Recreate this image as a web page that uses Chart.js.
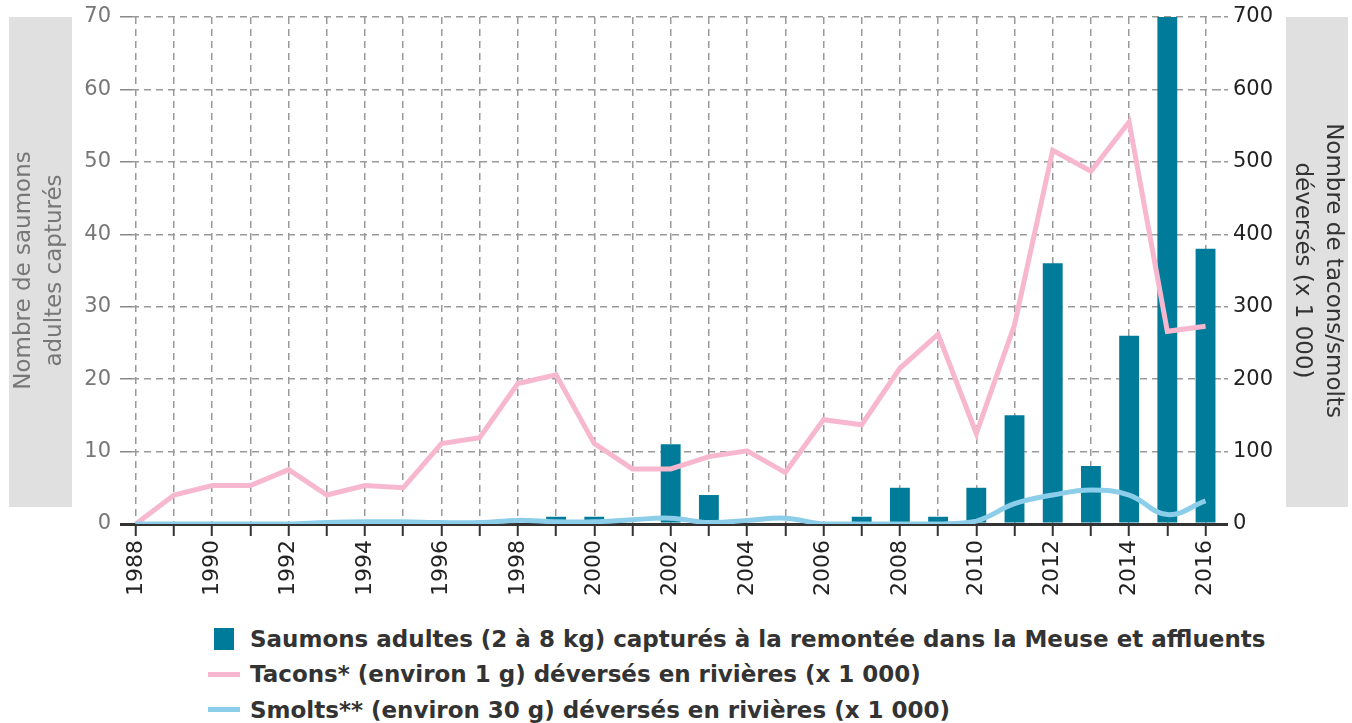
<!DOCTYPE html>
<html lang="fr">
<head>
<meta charset="utf-8">
<title>Saumons dans la Meuse</title>
<script src="https://cdn.jsdelivr.net/npm/chart.js@4.4.1/dist/chart.umd.min.js"></script>
<style>
  body { margin: 0; background: #fff; font-family: "DejaVu Sans", sans-serif; }
  #wrap { position: relative; width: 1352px; height: 610px; }
  #legend { position: absolute; left: 208px; top: 621px; color: #333; font-weight: bold; font-size: 23px; }
  #legend .row { height: 35.5px; display: flex; align-items: center; }
  #legend .sw { width: 32px; margin-right: 10px; display: flex; justify-content: center; }
  #legend .box { width: 20px; height: 22px; }
  #legend .line { width: 32px; height: 5px; }
</style>
</head>
<body>
<div id="wrap"><canvas id="myChart"></canvas></div>
<div id="legend"></div>
<script>
// données
const years = [1988, 1989, 1990, 1991, 1992, 1993, 1994, 1995, 1996, 1997, 1998, 1999, 2000, 2001, 2002,
  2003, 2004, 2005, 2006, 2007, 2008, 2009, 2010, 2011, 2012, 2013, 2014, 2015, 2016];
const saumons = [0, 0, 0, 0, 0, 0, 0, 0, 0, 0, 0, 1, 1, 0, 11,
  4, 0, 0, 0, 1, 5, 1, 5, 15, 36, 8, 26, 70, 38];
const tacons = [0, 40, 53, 53, 75, 40, 53, 50, 111, 119, 194, 206, 111, 76, 76,
  93, 101, 71, 144, 137, 215, 262, 125, 275, 516, 487, 555, 266, 273];
const smolts = [0, 0, 0, 0, 0, 2, 3, 3, 2, 2, 5, 3, 3, 6, 8,
  2, 5, 8, 0, 0, 0, 0, 4, 28, 40, 47, 40, 13, 32];
const leftTicks = [0, 10, 20, 30, 40, 50, 60, 70];
const rightTicks = [0, 100, 200, 300, 400, 500, 600, 700];

const labelSaumons = 'Saumons adultes (2 à 8 kg) capturés à la remontée dans la Meuse et affluents';
const labelTacons = 'Tacons* (environ 1 g) déversés en rivières (x 1 000)';
const labelSmolts = 'Smolts** (environ 30 g) déversés en rivières (x 1 000)';

const teal = '#007b99';
const pink = '#f7b7cf';
const blue = '#8ccdea';

Chart.defaults.font.family = '"DejaVu Sans", sans-serif';

const xy = arr => years.map((y, i) => ({ x: y, y: arr[i] }));

// largeur fixe des axes verticaux, sans marge auto en haut/bas
const fixWidth = w => s => {
  s.width = w;
  s.paddingTop = 0;
  s.paddingBottom = 0;
};

// fonds gris derrière les titres des axes
const titleBoxes = {
  id: 'titleBoxes',
  beforeDraw(chart) {
    const { ctx, chartArea, scales } = chart;
    const top = chartArea.top;
    const h = chartArea.bottom - 17 - top;
    ctx.save();
    ctx.fillStyle = '#e0e0e0';
    ctx.fillRect(scales.y.left, top, 63, h);
    ctx.fillRect(scales.y1.right - 62, top, 62, h);
    ctx.restore();
  }
};

const ctx = document.getElementById('myChart');

new Chart(ctx, {
  type: 'bar',
  data: {
    datasets: [
      {
        type: 'line',
        label: labelSmolts,
        data: xy(smolts),
        yAxisID: 'y1',
        borderColor: blue,
        borderWidth: 5,
        pointRadius: 0,
        tension: 0.4,
        order: 0
      },
      {
        type: 'line',
        label: labelTacons,
        data: xy(tacons),
        yAxisID: 'y1',
        borderColor: pink,
        borderWidth: 5,
        pointRadius: 0,
        tension: 0,
        order: 1
      },
      {
        label: labelSaumons,
        data: xy(saumons),
        yAxisID: 'y',
        backgroundColor: teal,
        categoryPercentage: 0.8,
        barPercentage: 0.65,
        order: 2
      }
    ]
  },
  options: {
    responsive: true,
    maintainAspectRatio: false,
    animation: false,
    layout: { padding: { top: 17, left: 9, right: 4, bottom: 8 } },
    plugins: {
      legend: { display: false },
      tooltip: { enabled: false }
    },
    scales: {
      x: {
        type: 'linear',
        offset: false,
        min: 1987.9,
        max: 2016.3,
        afterFit: s => {
          s.height = 78;
          s.paddingLeft = 0;
          s.paddingRight = 0;
        },
        border: { display: false, dash: [7, 5] },
        grid: {
          offset: false,
          color: '#9a9a9a',
          lineWidth: 1.5,
          tickColor: '#333',
          tickWidth: 2,
          tickLength: 12,
          tickBorderDash: []
        },
        ticks: {
          stepSize: 1,
          includeBounds: false,
          autoSkip: false,
          minRotation: 90,
          maxRotation: 90,
          padding: 4,
          color: '#222',
          font: { size: 22 },
          callback: v => (v % 2 === 0 ? String(v) : '')
        }
      },
      y: {
        position: 'left',
        min: 0,
        max: 70,
        afterFit: fixWidth(123),
        afterBuildTicks: s => { s.ticks = leftTicks.map(v => ({ value: v })); },
        border: {
          display: false,
          dash: c => (c.tick && c.tick.value === 0 ? [] : [7, 5])
        },
        grid: {
          color: c => (c.tick.value === 0 ? '#333' : '#9a9a9a'),
          lineWidth: c => (c.tick.value === 0 ? 3 : 1.5),
          tickColor: c => (c.tick.value === 0 ? '#333' : '#888'),
          tickLength: 12,
          tickBorderDash: []
        },
        ticks: { color: '#777', font: { size: 21 }, padding: 9 },
        title: {
          display: true,
          text: ['Nombre de saumons', 'adultes capturés'],
          color: '#777',
          font: { size: 23, lineHeight: 1.33 },
          padding: 0
        }
      },
      y1: {
        position: 'right',
        min: 0,
        max: 700,
        afterFit: fixWidth(131),
        afterBuildTicks: s => { s.ticks = rightTicks.map(v => ({ value: v })); },
        border: { display: false },
        grid: {
          drawOnChartArea: false,
          color: c => (c.tick.value === 0 ? '#333' : '#9a9a9a'),
          lineWidth: c => (c.tick.value === 0 ? 3 : 1.5),
          tickLength: 11,
          tickBorderDash: c => (c.tick.value === 0 ? [] : [4, 3])
        },
        ticks: { color: '#222', font: { size: 21 }, padding: 5 },
        title: {
          display: true,
          text: ['Nombre de tacons/smolts', 'déversés (x 1 000)'],
          color: '#333',
          font: { size: 23, lineHeight: 1.33 },
          padding: 0
        }
      }
    }
  },
  plugins: [titleBoxes]
});

// légende en bas, alignée à gauche
const legend = document.getElementById('legend');
[[labelSaumons, 'box', teal], [labelTacons, 'line', pink], [labelSmolts, 'line', blue]].forEach(([text, kind, color]) => {
  const row = document.createElement('div');
  row.className = 'row';
  row.innerHTML = `<span class="sw"><span class="${kind}" style="background:${color}"></span></span><span>${text}</span>`;
  legend.appendChild(row);
});
</script>
</body>
</html>
